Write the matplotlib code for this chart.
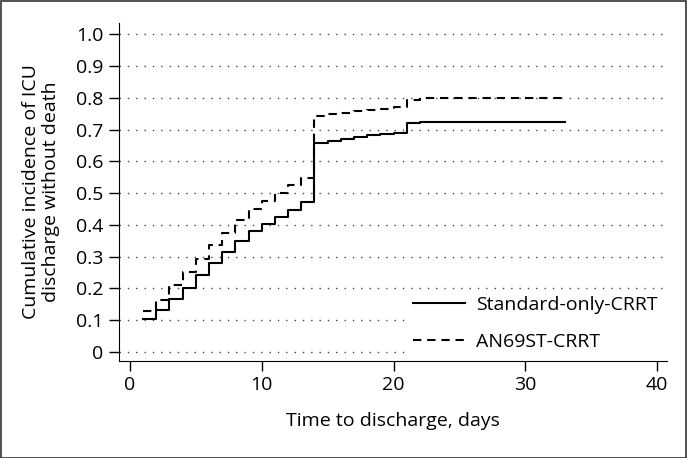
import numpy as np
import matplotlib
matplotlib.use("Agg")
import matplotlib.pyplot as plt
from matplotlib.patches import Rectangle

plt.rcParams['font.family'] = ['Open Sans', 'DejaVu Sans']

# step times (days) and cumulative incidence
days = [1, 2, 3, 4, 5, 6, 7, 8, 9, 10, 11, 12, 13, 14, 15, 16, 17, 18, 19, 20, 21, 22, 33]
standard = [0.104, 0.133, 0.168, 0.203, 0.243, 0.279, 0.316, 0.348, 0.380, 0.402, 0.425,
            0.447, 0.471, 0.658, 0.665, 0.671, 0.677, 0.682, 0.686, 0.690, 0.719, 0.723, 0.723]
an69st = [0.130, 0.163, 0.211, 0.252, 0.292, 0.336, 0.376, 0.414, 0.449, 0.476, 0.500,
          0.526, 0.548, 0.742, 0.748, 0.753, 0.758, 0.762, 0.766, 0.771, 0.792, 0.800, 0.800]

yticks = np.arange(0, 1.01, 0.1)
ytick_labels = ['0'] + ['%.1f' % v for v in yticks[1:]]
xticks = [0, 10, 20, 30, 40]

fig = plt.figure(figsize=(6.87, 4.58), dpi=100)
ax = fig.add_axes([0.1732, 0.2118, 0.971 - 0.1732, 0.9498 - 0.2118])

for y in yticks:
    ax.axhline(y, color='#444444', lw=1.0, ls=(0, (1, 5)), zorder=1)

ax.step(days, standard, where='post', color='black', lw=1.5, label='Standard-only-CRRT', zorder=3)
ax.step(days, an69st, where='post', color='black', lw=1.5, ls=(0, (4, 2.8)),
        label='AN69ST-CRRT', zorder=3)

ax.set_xlim(-0.83, 40.75)
ax.set_ylim(-0.028, 1.035)
ax.set_yticks(yticks)
ax.set_yticklabels(ytick_labels)
ax.set_xticks(xticks)
ax.tick_params(direction='out', length=7, width=1, labelsize=14, pad=4)
ax.spines['top'].set_visible(False)
ax.spines['right'].set_visible(False)

ax.set_xlabel('Time to discharge, days', fontsize=14, labelpad=13)
ax.set_ylabel('Cumulative incidence of ICU\ndischarge without death', fontsize=14,
              labelpad=12, linespacing=1.1)

leg = ax.legend(loc='lower right', fontsize=14, frameon=True, handlelength=2.7,
                labelspacing=1.0, borderaxespad=0.2, handletextpad=0.55, borderpad=0.3)
leg.get_frame().set_edgecolor('none')
leg.get_frame().set_facecolor('white')
leg.get_frame().set_alpha(1)
leg.set_zorder(5)

fig.patches.append(Rectangle((0.001, 0.001), 0.997, 0.997, transform=fig.transFigure,
                             fill=False, edgecolor='#333333', lw=1.2))

fig.savefig('out.png', dpi=100)
